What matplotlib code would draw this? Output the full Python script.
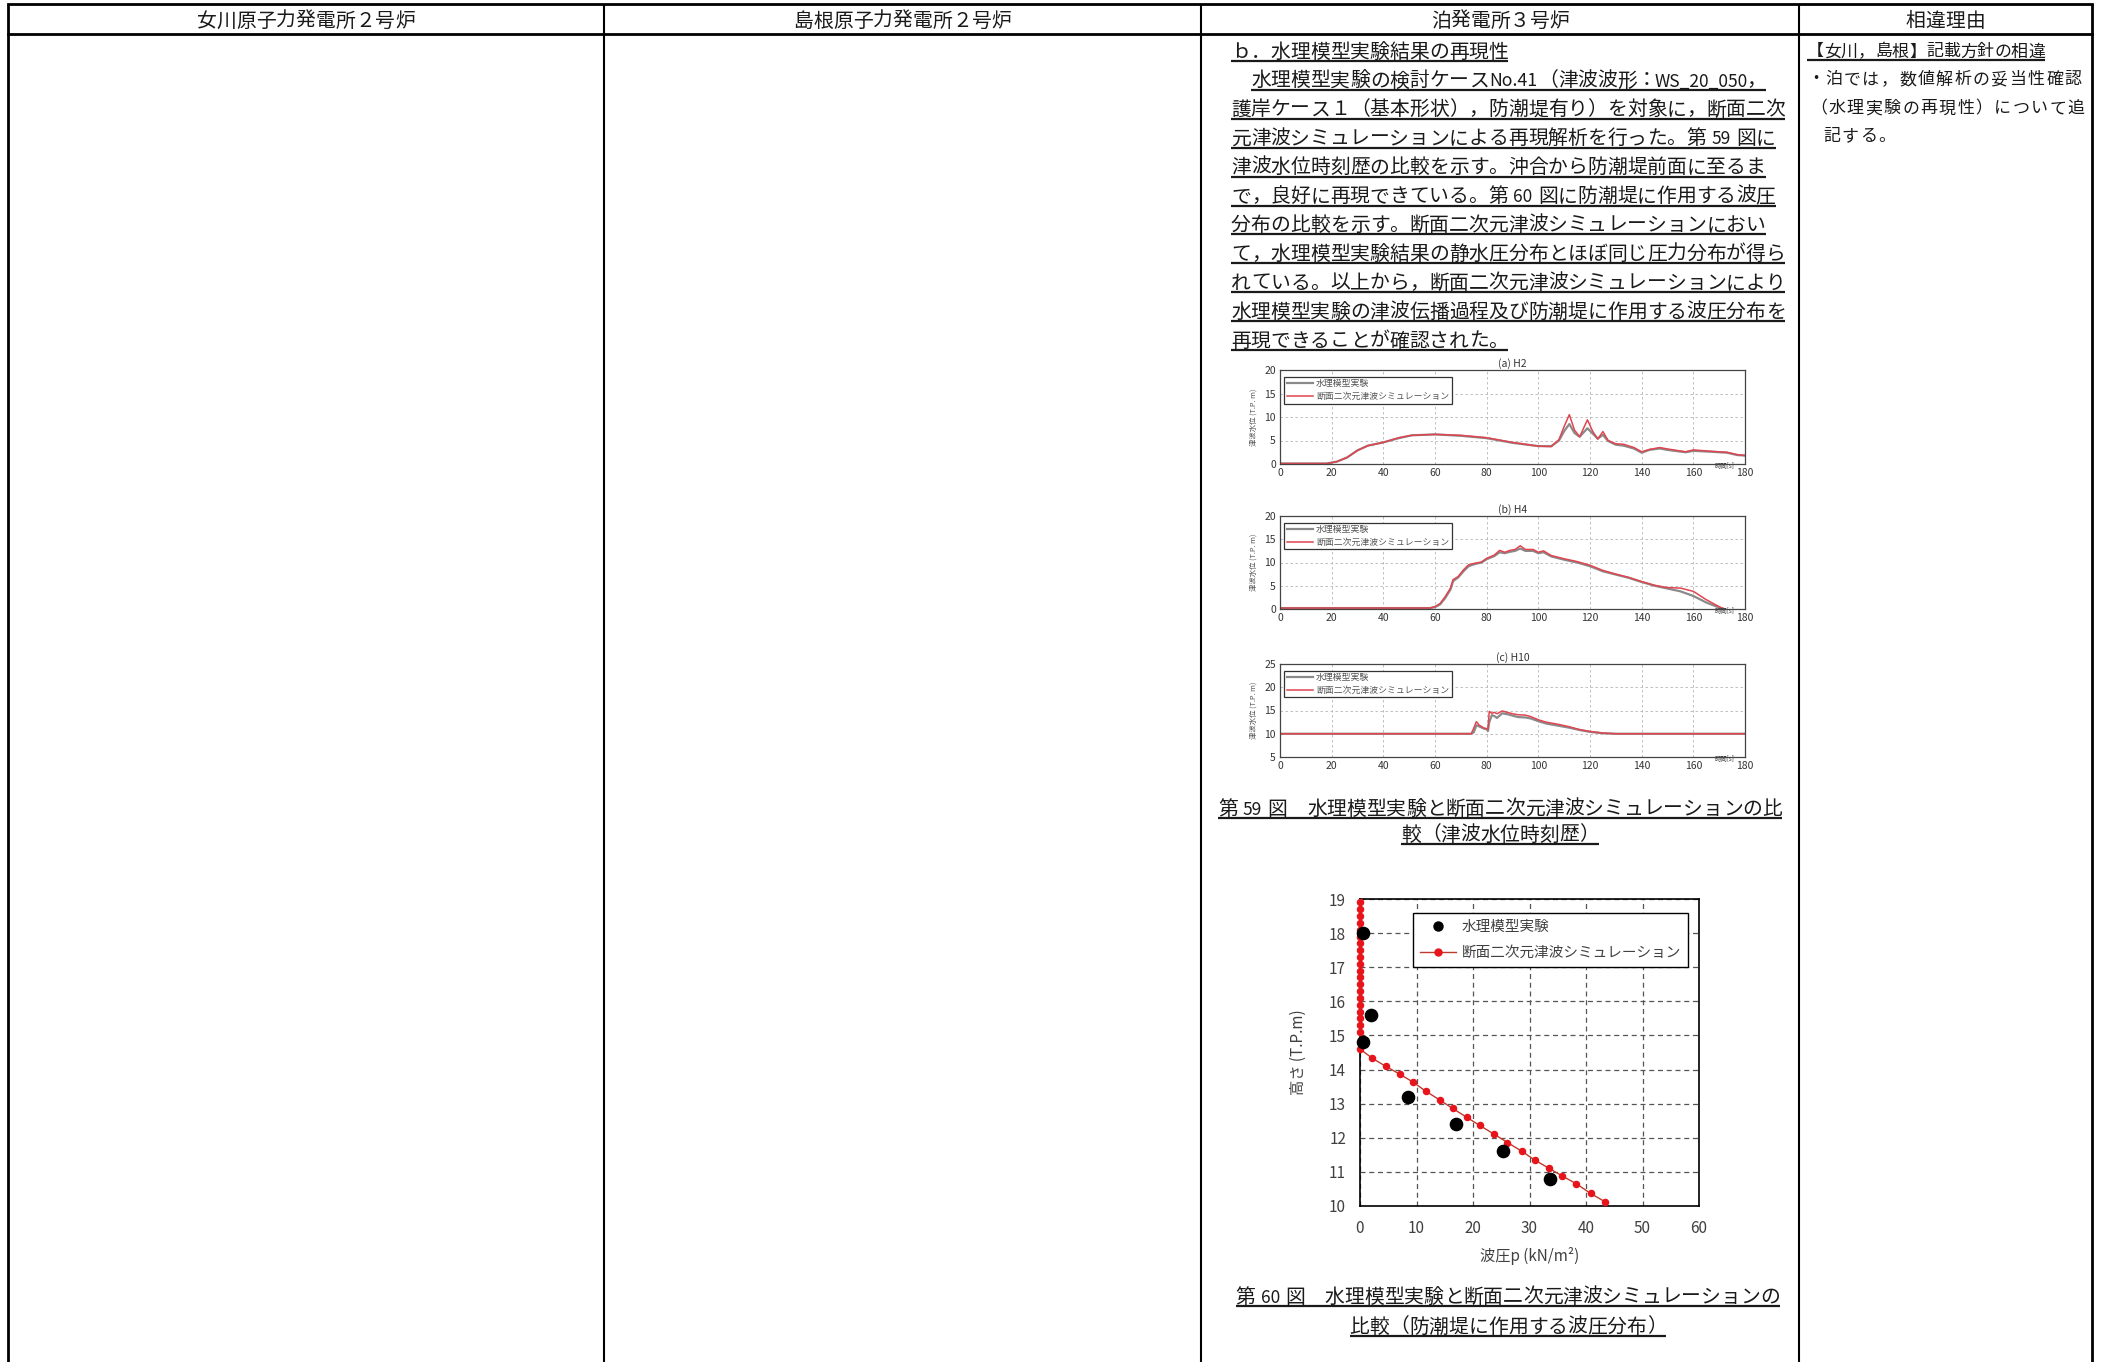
import matplotlib
matplotlib.use("Agg")
import matplotlib.pyplot as plt
from matplotlib.lines import Line2D

plt.rcParams['font.family'] = ['Noto Sans CJK JP', 'DejaVu Sans']

# ---------------- data ----------------
header_labels = ['女川原子力発電所２号炉', '島根原子力発電所２号炉', '泊発電所３号炉', '相違理由']

body_lines = [
    'ｂ．水理模型実験結果の再現性',
    '水理模型実験の検討ケースNo.41（津波波形：WS_20_050，',
    '護岸ケース１（基本形状），防潮堤有り）を対象に，断面二次',
    '元津波シミュレーションによる再現解析を行った。第 59 図に',
    '津波水位時刻歴の比較を示す。沖合から防潮堤前面に至るま',
    'で，良好に再現できている。第 60 図に防潮堤に作用する波圧',
    '分布の比較を示す。断面二次元津波シミュレーションにおい',
    'て，水理模型実験結果の静水圧分布とほぼ同じ圧力分布が得ら',
    'れている。以上から，断面二次元津波シミュレーションにより',
    '水理模型実験の津波伝播過程及び防潮堤に作用する波圧分布を',
    '再現できることが確認された。',
]
caption59 = ['第 59 図　水理模型実験と断面二次元津波シミュレーションの比', '較（津波水位時刻歴）']
caption60 = ['第 60 図　水理模型実験と断面二次元津波シミュレーションの', '比較（防潮堤に作用する波圧分布）']
reason_lines = ['【女川，島根】記載方針の相違', '・泊では，数値解析の妥当性確認',
                '（水理実験の再現性）について追', '記する。']

legend_labels = ['水理模型実験', '断面二次元津波シミュレーション']

# (a) H2
h2_t = [0, 18, 22, 26, 30, 34, 40, 46, 51, 60, 70, 80, 90, 100, 105, 108, 110, 112, 114, 116,
        119, 121, 123, 125, 127, 130, 133, 137, 140, 143, 147, 150, 157, 160, 167, 173, 177, 180]
h2_exp = [0.1, 0.1, 0.5, 1.4, 2.9, 3.9, 4.6, 5.5, 6.1, 6.3, 6.0, 5.5, 4.5, 3.8, 3.8, 5.0, 7.0, 8.5, 6.6, 5.8,
          7.6, 6.5, 5.4, 6.2, 4.9, 4.1, 3.9, 3.3, 2.4, 3.0, 3.3, 3.0, 2.5, 2.8, 2.6, 2.4, 1.9, 1.8]
h2_sim = [0.1, 0.1, 0.5, 1.4, 2.9, 3.9, 4.6, 5.6, 6.1, 6.3, 6.1, 5.6, 4.6, 3.8, 3.7, 5.2, 8.0, 10.5, 7.2, 5.8,
          9.4, 7.0, 5.3, 6.9, 5.0, 4.3, 4.2, 3.5, 2.6, 3.1, 3.5, 3.2, 2.6, 3.0, 2.7, 2.5, 2.0, 1.8]

# (b) H4
h4_t = [0, 58, 60, 62, 64, 66, 67, 69, 71, 73, 75, 78, 80, 83, 85, 87, 89, 91, 93, 95, 98, 100, 102,
        105, 110, 115, 120, 125, 130, 135, 140, 145, 150, 155, 160, 165, 170, 172]
h4_exp = [0.2, 0.2, 0.4, 1.0, 2.4, 4.2, 6.0, 6.8, 8.1, 9.2, 9.6, 10.0, 10.7, 11.4, 12.2, 12.0, 12.3, 12.5,
          13.0, 12.5, 12.5, 12.0, 12.2, 11.3, 10.6, 10.0, 9.2, 8.1, 7.4, 6.7, 5.8, 5.0, 4.4, 3.8, 2.8, 1.4, 0.3, 0.0]
h4_sim = [0.2, 0.2, 0.5, 1.2, 2.7, 4.5, 6.3, 7.0, 8.4, 9.5, 9.8, 10.1, 10.9, 11.6, 12.6, 12.2, 12.6, 12.8,
          13.6, 12.8, 12.8, 12.2, 12.5, 11.5, 10.8, 10.2, 9.4, 8.3, 7.5, 6.8, 5.9, 5.1, 4.6, 4.5, 3.8, 2.0, 0.5, 0.0]

# (c) H10
h10_t = [0, 74, 75, 76, 77, 79, 80, 80.5, 81, 82, 83, 84, 86, 88, 90, 92, 95, 97, 100, 103, 106, 108,
         112, 116, 120, 125, 130, 180]
h10_exp = [10, 10, 10.3, 11.8, 11.6, 11.1, 11.0, 10.6, 12.5, 14.0, 13.8, 13.4, 14.4, 14.2, 13.9, 13.6, 13.5,
           13.3, 12.7, 12.2, 11.9, 11.7, 11.3, 10.8, 10.4, 10.1, 10.0, 10.0]
h10_sim = [10, 10, 11.2, 12.6, 11.9, 11.2, 11.1, 11.0, 14.8, 14.4, 14.6, 14.3, 14.9, 14.6, 14.3, 14.1, 14.0,
           13.7, 13.0, 12.5, 12.2, 12.0, 11.5, 10.9, 10.5, 10.15, 10.0, 10.0]

# wave pressure distribution on the seawall
exp_p = [0.6, 1.9, 0.6, 8.5, 17.0, 25.3, 33.7]
exp_h = [18.0, 15.6, 14.8, 13.2, 12.4, 11.6, 10.8]
sim_p = [0, 0, 0, 0, 0, 0, 0, 0, 0, 0, 0, 0, 0, 0, 0, 0, 0, 0, 0, 0, 0,
         2.2, 4.6, 7.1, 9.4, 11.6, 14.1, 16.4, 18.9, 21.2, 23.7, 26.1, 28.6, 30.9, 33.5, 35.8, 38.3, 40.8, 43.3]
sim_h = [18.9, 18.7, 18.5, 18.3, 18.1, 17.9, 17.7, 17.5, 17.3, 17.1, 16.9, 16.7, 16.5, 16.3, 16.1, 15.9,
         15.7, 15.5, 15.3, 15.1, 14.6,
         14.33, 14.09, 13.86, 13.63, 13.37, 13.11, 12.86, 12.60, 12.36, 12.11, 11.86, 11.61, 11.35, 11.10,
         10.88, 10.65, 10.37, 10.13]

# ---------------- page ----------------
W, H = 2103, 1362
fig = plt.figure(figsize=(W / 100, H / 100), dpi=100)
fig.patch.set_facecolor('white')
bg = fig.add_axes([0, 0, 1, 1])
bg.set_xlim(0, W)
bg.set_ylim(H, 0)
bg.axis('off')
renderer = fig.canvas.get_renderer()

INK = '#1a1a1a'


def is_half(ch):
    return ord(ch) < 0x100 and ch != ' '


def runs(s):
    """Split a line into single full-width characters, spaces and half-width runs."""
    out, i = [], 0
    while i < len(s):
        if is_half(s[i]):
            j = i
            while j < len(s) and is_half(s[j]):
                j += 1
            out.append((s[i:j], 'half'))
            i = j
        elif s[i] == ' ':
            out.append((' ', 'space'))
            i += 1
        else:
            out.append((s[i], 'full'))
            i += 1
    return out


def run_width(item, em, extra):
    txt, kind = item
    if kind == 'half':
        return 0.5 * em * len(txt) + extra * len(txt)
    if kind == 'space':
        return 0.25 * em + extra
    return em + extra


def natural_width(txt, size):
    t = bg.text(0, 0, txt, fontsize=size)
    w = t.get_window_extent(renderer).width
    t.remove()
    return w


def write(s, x0, yc, em=19.8, extra=0.0, underline=False, center=None):
    items = runs(s)
    widths = [run_width(it, em, extra) for it in items]
    total = sum(widths) - extra
    if center is not None:
        x0 = center - total / 2
    size = em * 72 / 100
    base = yc + 0.38 * em
    x = x0
    for (txt, kind), w in zip(items, widths):
        if kind == 'full' and txt.strip():
            bg.text(x, base, txt, fontsize=size, ha='left', va='baseline', color=INK)
        elif kind == 'half':
            slot = 0.5 * em * len(txt)
            nat = natural_width(txt, size)
            scale = max(0.88, min(1.0, (slot - 1) / nat)) if nat > 0 else 1.0
            bg.text(x + slot / 2, base, txt, fontsize=size * scale, ha='center', va='baseline', color=INK)
        x += w
    if underline:
        bg.plot([x0, x0 + total], [base + 3.5] * 2, color=INK, lw=1.6, solid_capstyle='butt')


# table frame
col_x = [7.5, 604, 1201, 1799, 2092]
top_y, head_y = 3.5, 33.5
bg.plot([col_x[0], col_x[-1]], [top_y, top_y], color='black', lw=2.0)
bg.plot([col_x[0], col_x[-1]], [head_y, head_y], color='black', lw=2.0)
for i, x in enumerate(col_x):
    lw = 2.0 if i in (0, len(col_x) - 1) else 1.5
    bg.plot([x, x], [top_y, H], color='black', lw=lw, solid_capstyle='butt')

for i, lab in enumerate(header_labels):
    write(lab, 0, 19.5, center=(col_x[i] + col_x[i + 1]) / 2)

# body text of the third column
for i, line in enumerate(body_lines):
    yc = 50 + 28.9 * i
    x0 = 1231 if i != 1 else 1251
    write(line, x0, yc, underline=True)

# reasons column
write(reason_lines[0], 1807, 50, em=17.0, underline=True)
write(reason_lines[1], 1807, 78, em=17.0, extra=1.4)
write(reason_lines[2], 1810, 107, em=17.0, extra=1.4)
write(reason_lines[3], 1823, 135, em=17.0, extra=1.4)

# captions
write(caption59[0], 0, 807, underline=True, center=1500)
write(caption59[1], 0, 833, underline=True, center=1500)
write(caption60[0], 0, 1295, underline=True, center=1508)
write(caption60[1], 0, 1325, underline=True, center=1508)


def rect(l, t, r, b):
    return [l / W, 1 - b / H, (r - l) / W, (b - t) / H]


GREY = '#8a8a8a'
RED = '#e04550'


def small_chart(box, t, y_exp, y_sim, ylim, yticks, title):
    ax = fig.add_axes(rect(*box))
    ax.plot(t, y_exp, color=GREY, lw=1.6, label=legend_labels[0])
    ax.plot(t, y_sim, color=RED, lw=1.1, label=legend_labels[1])
    ax.set_xlim(0, 180)
    ax.set_ylim(*ylim)
    ax.set_xticks(range(0, 181, 20))
    ax.set_yticks(yticks)
    ax.grid(True, ls=(0, (3, 3)), color='#b5b5b5', lw=0.6)
    ax.tick_params(length=0, labelsize=7.5, pad=3, colors='#333333')
    for sp in ax.spines.values():
        sp.set_color('#444444')
        sp.set_linewidth(0.9)
    ax.set_title(title, fontsize=7.5, pad=2, color='#333333')
    ax.set_ylabel('津波水位 (T.P. m)', fontsize=5.3, labelpad=5, color='#555555')
    ax.text(172, ylim[0] - (ylim[1] - ylim[0]) * 0.02, '時間[s]', fontsize=4.6,
            ha='center', va='center', color='#444444')
    leg = ax.legend(loc='upper left', bbox_to_anchor=(0.009, 0.93), fontsize=6.4,
                    frameon=True, fancybox=False, edgecolor='#333333', framealpha=1,
                    borderpad=0.28, labelspacing=0.45, handlelength=3.0, handletextpad=0.3,
                    borderaxespad=0)
    leg.get_frame().set_linewidth(0.9)
    for txt in leg.get_texts():
        txt.set_color('#555555')
    return ax


small_chart((1280, 370, 1745, 464), h2_t, h2_exp, h2_sim, (0, 20), [0, 5, 10, 15, 20], '(a) H2')
small_chart((1280, 516, 1745, 609), h4_t, h4_exp, h4_sim, (0, 20), [0, 5, 10, 15, 20], '(b) H4')
small_chart((1280, 664, 1745, 757), h10_t, h10_exp, h10_sim, (5, 25), [5, 10, 15, 20, 25], '(c) H10')

# wave pressure chart
ax = fig.add_axes(rect(1360, 899, 1699, 1206))
ax.plot(sim_p, sim_h, color='#c0392b', lw=1.0, marker='o', ms=4.4,
        mfc='#e8141b', mec='#e8141b', zorder=3, clip_on=False)
ax.plot(exp_p, exp_h, ls='none', marker='o', ms=8.8, color='black', zorder=4, clip_on=False)
ax.set_xlim(0, 60)
ax.set_ylim(10, 19)
ax.set_xticks(range(0, 61, 10))
ax.set_yticks(range(10, 20))
ax.grid(True, ls=(0, (4, 3)), color='#555555', lw=0.9)
ax.tick_params(length=0, labelsize=11, pad=10, colors='#404040')
for sp in ax.spines.values():
    sp.set_color('black')
    sp.set_linewidth(1.2)
ax.set_xlabel('波圧p (kN/m²)', fontsize=11, labelpad=7, color='#404040')
ax.set_ylabel('高さ (T.P.m)', fontsize=11, labelpad=16, color='#404040')

h_exp = Line2D([], [], ls='none', marker='o', color='black', ms=6.5)
h_sim = Line2D([], [], color='#c0392b', lw=1.0, marker='o', ms=5, mfc='#e8141b', mec='#e8141b')
leg = ax.legend([h_exp, h_sim], legend_labels, loc='upper right', bbox_to_anchor=(0.967, 0.954),
                fontsize=10.5, frameon=True, fancybox=False, edgecolor='black', framealpha=1,
                borderpad=0.45, labelspacing=0.85, handlelength=2.5, handletextpad=0.4,
                borderaxespad=0)
leg.get_frame().set_linewidth(1.0)
for txt in leg.get_texts():
    txt.set_color('#404040')

fig.savefig('out.png', dpi=100, facecolor='white')
